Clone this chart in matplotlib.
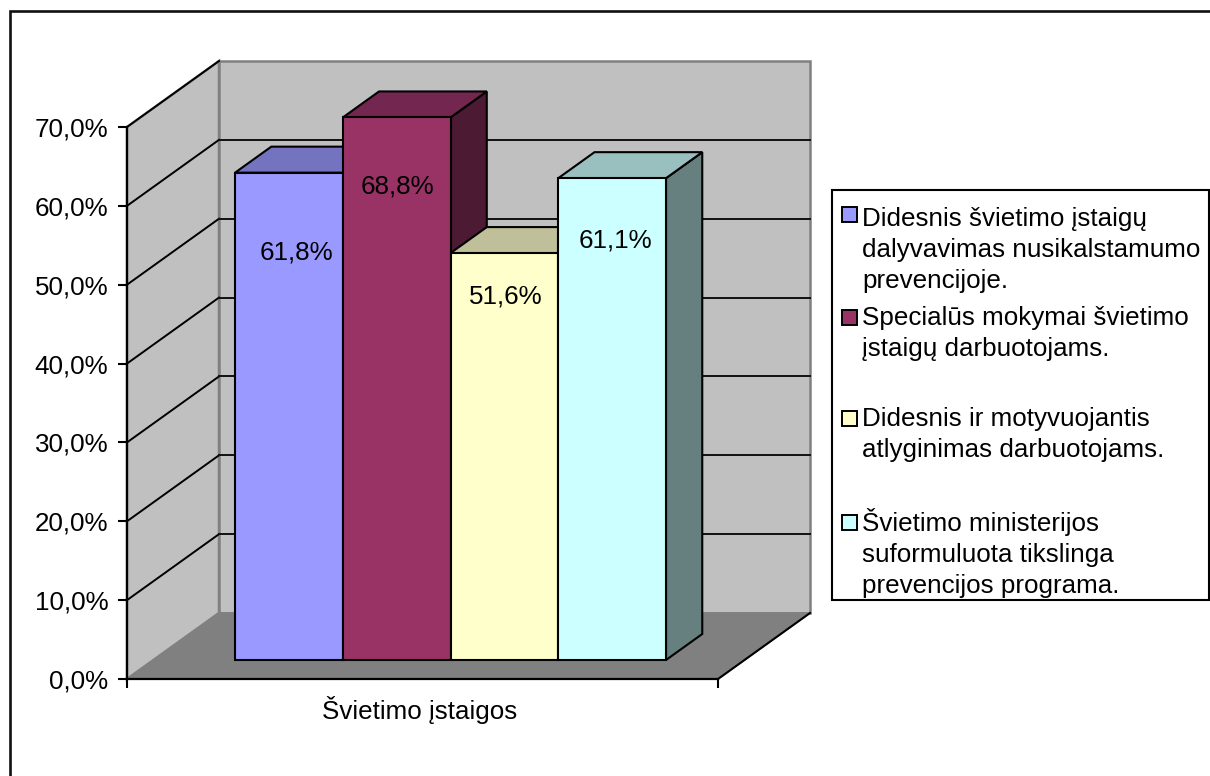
import matplotlib
matplotlib.use("Agg")
import matplotlib.pyplot as plt
from matplotlib.lines import Line2D
from matplotlib.patches import Polygon, Rectangle

plt.rcParams['font.family'] = ['Liberation Sans', 'DejaVu Sans']

category = "Švietimo įstaigos"
series_names = [
    "Didesnis švietimo įstaigų\ndalyvavimas nusikalstamumo\nprevencijoje.",
    "Specialūs mokymai švietimo\nįstaigų darbuotojams.",
    "Didesnis ir motyvuojantis\natlyginimas darbuotojams.",
    "Švietimo ministerijos\nsuformuluota tikslinga\nprevencijos programa.",
]
values = [61.8, 68.8, 51.6, 61.1]
labels = ["61,8%", "68,8%", "51,6%", "61,1%"]
colors = ["#9999FF", "#993366", "#FFFFCC", "#CCFFFF"]
tops = ["#7373BF", "#732650", "#BFBF99", "#99BFBF"]
sides = ["#4D4D80", "#4D1A33", "#808066", "#668080"]
yticks = [0, 10, 20, 30, 40, 50, 60, 70]
ytick_labels = ["0,0%", "10,0%", "20,0%", "30,0%", "40,0%", "50,0%", "60,0%", "70,0%"]

W, H = 1210, 776
FS = 18.7
fig = plt.figure(figsize=(W / 100, H / 100), dpi=100, facecolor="white")
# outer frame: only the top and left edges fall inside the picture
fig.add_artist(Line2D([10.3 / W, 10.3 / W, 1], [0, 1 - 11.3 / H, 1 - 11.3 / H],
                      transform=fig.transFigure, color="#111111", lw=1.9, zorder=-5,
                      solid_joinstyle="miter"))

ax = fig.add_axes([127 / W, 1 - 679 / H, 591 / W, 552 / H])
ax.set_xlim(0, 1)
ax.set_ylim(0, 70)
ax.patch.set_visible(False)
for s in ax.spines.values():
    s.set_visible(False)

DX, DY = 92 / 591, 66 * 70 / 552  # full depth vector in data units


def p(x, y, d):
    return (x + d * DX, y + d * DY)


def poly(points, **kw):
    ax.add_patch(Polygon(points, closed=True, clip_on=False, **kw))


ymax = yticks[-1]
poly([p(0, 0, 0), p(0, 0, 1), p(0, ymax, 1), p(0, ymax, 0)], fc="#C0C0C0", ec="#808080", lw=1.8, zorder=1)
poly([p(0, 0, 1), p(1, 0, 1), p(1, ymax, 1), p(0, ymax, 1)], fc="#C0C0C0", ec="#808080", lw=1.8, zorder=1)
poly([p(0, 0, 0), p(1, 0, 0), p(1, 0, 1), p(0, 0, 1)], fc="#808080", ec="#808080", lw=1.2, zorder=1)

for t in yticks[1:]:
    a, b, c = p(0, t, 0), p(0, t, 1), p(1, t, 1)
    ax.plot([a[0], b[0]], [a[1], b[1]], color="black", lw=1.4, clip_on=False, zorder=2)
    if t < ymax:
        ax.plot([b[0], c[0]], [b[1], c[1]], color="#111111", lw=1.4, clip_on=False, zorder=2)

ax.plot([0, 0], [0, ymax], color="black", lw=1.6, clip_on=False, zorder=9)
ax.plot([0, 1], [0, 0], color="black", lw=1.6, clip_on=False, zorder=9)
ax.plot([1, 1 + DX], [0, DY], color="black", lw=1.5, clip_on=False, zorder=2)

ax.set_yticks(yticks, ytick_labels, fontsize=FS)
ax.set_xticks([0, 1], ["", ""])
ax.tick_params(axis="y", length=6.5, width=1.5, pad=7)
ax.tick_params(axis="x", length=6.5, width=1.5)
ax.text(0.495, -0.057, category, transform=ax.transAxes, ha="center", va="center", fontsize=FS)

bw = 0.1823
x0 = 0.138
d0, d1 = 0.288, 0.682
label_dx = [8, 1, 1, 3]
label_dy = [-80, -69, -43, -62]
for i, (v, lab, c, tc, sc) in enumerate(zip(values, labels, colors, tops, sides)):
    l, r = x0 + i * bw, x0 + (i + 1) * bw
    z = 3 + i
    poly([p(r, 0, d0), p(r, 0, d1), p(r, v, d1), p(r, v, d0)], fc=sc, ec="black", lw=1.5, zorder=z)
    poly([p(l, v, d0), p(r, v, d0), p(r, v, d1), p(l, v, d1)], fc=tc, ec="black", lw=1.5, zorder=z)
    poly([p(l, 0, d0), p(r, 0, d0), p(r, v, d0), p(l, v, d0)], fc=c, ec="black", lw=1.5, zorder=z)
    cx, cy = p((l + r) / 2, v, d0)
    ax.annotate(lab, (cx, cy), xytext=(label_dx[i], label_dy[i]), textcoords="offset pixels",
                ha="center", va="center", fontsize=FS, zorder=20, annotation_clip=False)

# legend
fig.add_artist(Rectangle((832 / W, 1 - 600 / H), (1208.5 - 832) / W, (600 - 190) / H,
                         transform=fig.transFigure, fc="white", ec="black", lw=1.5))
marker_top = [207, 310, 411, 515]
text_top = [207, 306, 407, 508]
for name, c, ym, yt in zip(series_names, colors, marker_top, text_top):
    fig.add_artist(Rectangle((842 / W, 1 - (ym + 15) / H), 15 / W, 15 / H,
                             transform=fig.transFigure, fc=c, ec="black", lw=1.4))
    fig.text(862 / W, 1 - yt / H, name, ha="left", va="top", fontsize=FS, linespacing=1.36)

fig.savefig("out.png", dpi=100)
